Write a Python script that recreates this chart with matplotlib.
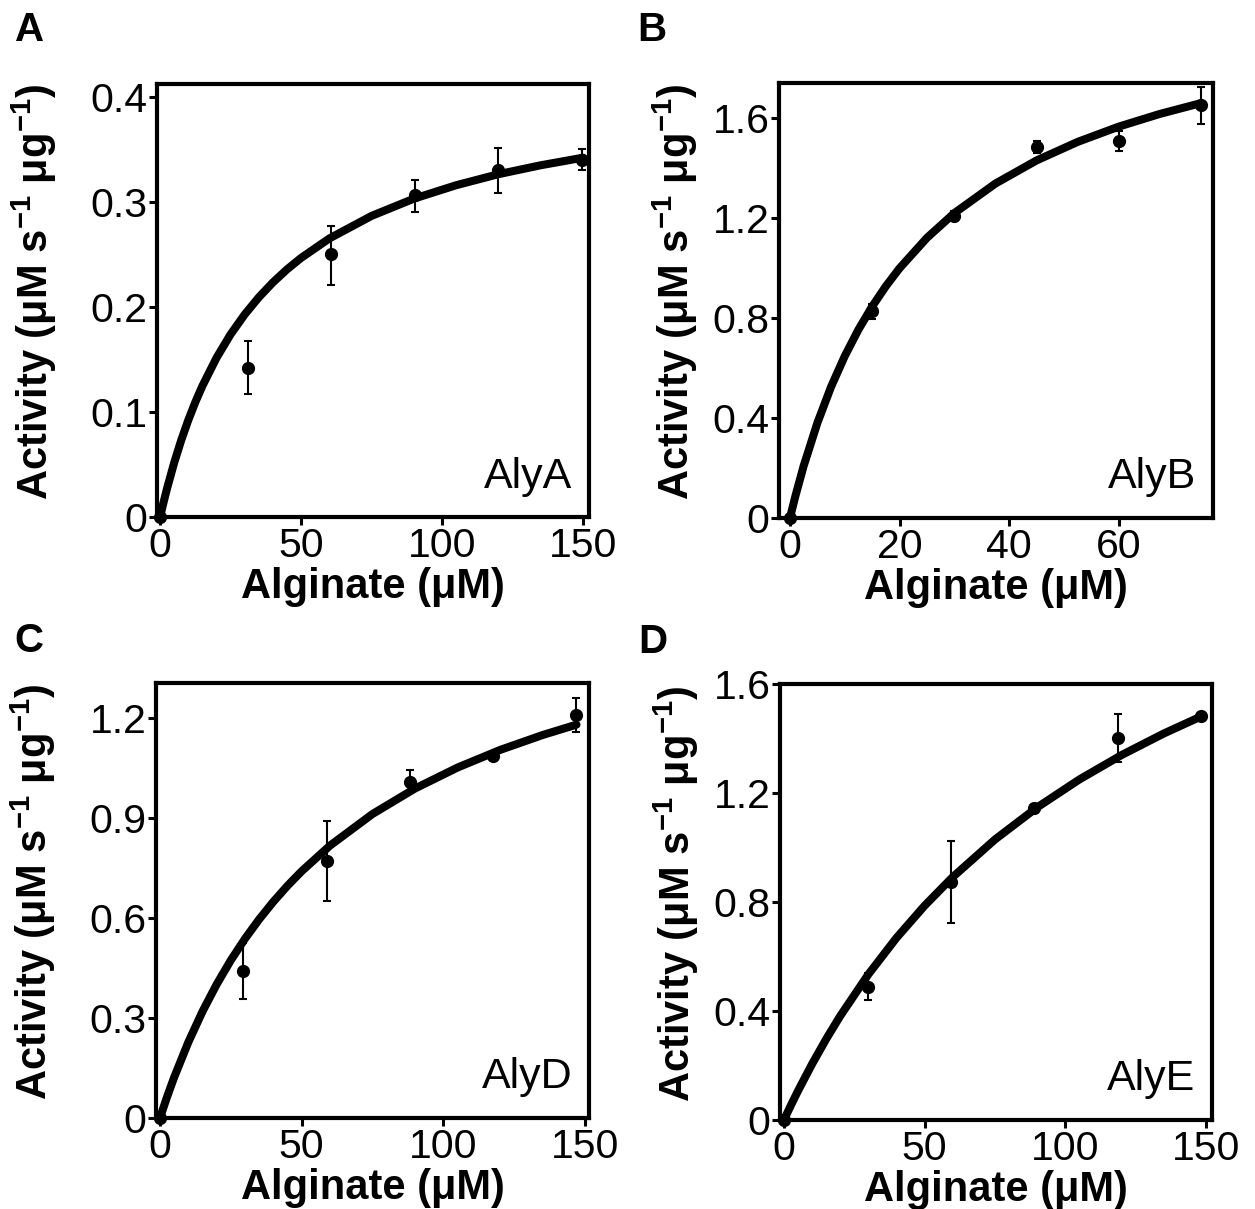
import matplotlib
matplotlib.use("Agg")
from matplotlib import pyplot as plt

plt.rcParams['font.family'] = 'Liberation Sans'
plt.rcParams['mathtext.fontset'] = 'custom'
plt.rcParams['mathtext.rm'] = 'Liberation Sans'
plt.rcParams['mathtext.bf'] = 'Liberation Sans:bold'

# measured points (substrate, activity, error bar low/high)
a_x = [0, 31, 60.5, 90.5, 120, 149.5]
a_y = [0, 0.142, 0.250, 0.306, 0.330, 0.340]
a_lo = [0, 0.025, 0.029, 0.016, 0.022, 0.010]
a_hi = [0, 0.025, 0.027, 0.015, 0.021, 0.010]
a_fit_x = [0, 1, 2.5, 5, 7.5, 10, 12.5, 15, 20, 25, 30, 35, 40, 45, 50, 60,
           75, 90, 105, 120, 135, 150]
a_fit_y = [0, 0.0115, 0.0275, 0.0517, 0.0731, 0.0922, 0.1093, 0.1247, 0.1514,
           0.1738, 0.1927, 0.209, 0.2232, 0.2356, 0.2465, 0.265, 0.2865,
           0.3029, 0.3157, 0.3262, 0.3347, 0.3419]

b_x = [0, 15, 30, 45, 60, 75]
b_y = [0, 0.828, 1.208, 1.484, 1.508, 1.652]
b_lo = [0, 0.03, 0.02, 0.025, 0.04, 0.075]
b_hi = [0, 0.03, 0.02, 0.025, 0.04, 0.072]
b_fit_x = [0, 1, 2.5, 5, 7.5, 10, 12.5, 15, 17.5, 20, 25, 30, 37.5, 45, 52.5,
           60, 67.5, 75]
b_fit_y = [0, 0.0883, 0.2082, 0.3801, 0.5246, 0.6476, 0.7537, 0.846, 0.9272,
           0.9991, 1.1208, 1.2198, 1.338, 1.4304, 1.5046, 1.5657, 1.6165,
           1.6597]

d_x = [0, 29.3, 59, 88.2, 117.5, 146.8]
d_y = [0, 0.441, 0.771, 1.008, 1.086, 1.209]
d_lo = [0, 0.084, 0.12, 0.03, 0.012, 0.05]
d_hi = [0, 0.084, 0.12, 0.036, 0.012, 0.05]
d_fit_x = [0, 2.5, 5, 10, 15, 20, 25, 30, 35, 40, 45, 50, 60, 75, 90, 105,
           120, 135, 147]
d_fit_y = [0, 0.0631, 0.1217, 0.2271, 0.3193, 0.4007, 0.473, 0.5377, 0.5959,
           0.6486, 0.6965, 0.7402, 0.8171, 0.9119, 0.9883, 1.0512, 1.104,
           1.1487, 1.18]

e_x = [0, 29.9, 59.4, 88.9, 118.8, 148.3]
e_y = [0, 0.488, 0.873, 1.145, 1.402, 1.483]
e_lo = [0, 0.048, 0.15, 0.01, 0.088, 0.01]
e_hi = [0, 0.051, 0.15, 0.01, 0.088, 0.01]
e_fit_x = [0, 2.5, 5, 10, 15, 20, 30, 40, 50, 60, 75, 90, 105, 120, 135, 148]
e_fit_y = [0, 0.0545, 0.1068, 0.2054, 0.2968, 0.3817, 0.5346, 0.6685, 0.7867,
           0.8919, 1.0295, 1.1475, 1.2499, 1.3395, 1.4186, 1.48]

xt_150 = [0, 50, 100, 150]
xt_75 = [0, 20, 40, 60]
a_yt = [0, 0.1, 0.2, 0.3, 0.4]
a_ytl = ["0", "0.1", "0.2", "0.3", "0.4"]
b_yt = [0, 0.4, 0.8, 1.2, 1.6]
b_ytl = ["0", "0.4", "0.8", "1.2", "1.6"]
d_yt = [0, 0.3, 0.6, 0.9, 1.2]
d_ytl = ["0", "0.3", "0.6", "0.9", "1.2"]

panels = [
    # letter, name, data, fit, xticks, yticks, labels, xlim, ylim, rect,
    # ylabel x, letter offset
    ("A", "AlyA", (a_x, a_y, a_lo, a_hi), (a_fit_x, a_fit_y), xt_150, a_yt, a_ytl,
     (-1.1, 152.1), (0, 0.412), [0.1251, 0.5724, 0.3442, 0.3581], -0.226, 0.06),
    ("B", "AlyB", (b_x, b_y, b_lo, b_hi), (b_fit_x, b_fit_y), xt_75, b_yt, b_ytl,
     (-2.0, 77.2), (0, 1.74), [0.6207, 0.5715, 0.3458, 0.3598], -0.182, 0.06),
    ("C", "AlyD", (d_x, d_y, d_lo, d_hi), (d_fit_x, d_fit_y), xt_150, d_yt, d_ytl,
     (-1.4, 151.4), (0, 1.305), [0.1243, 0.0753, 0.3450, 0.3598], -0.226, 0.0505),
    ("D", "AlyE", (e_x, e_y, e_lo, e_hi), (e_fit_x, e_fit_y), xt_150, b_yt, b_ytl,
     (-1.4, 152.1), (0, 1.6), [0.6215, 0.0736, 0.3442, 0.3606], -0.182, 0.0505),
]

fig = plt.figure(figsize=(12.55, 12.09), dpi=100)

for letter, name, pts, fit, xt, yt, ytl, xl, yl, rect, ylab_x, let_dy in panels:
    ax = fig.add_axes(rect)
    ax.plot(fit[0], fit[1], color='black', lw=5.8, solid_capstyle='round',
            solid_joinstyle='round', zorder=2, clip_on=False)
    ax.errorbar(pts[0], pts[1], yerr=[pts[2], pts[3]], fmt='o', color='black',
                ms=8.5, elinewidth=1.5, capsize=3.0, capthick=1.5, zorder=3,
                clip_on=False)
    ax.set_xlim(xl)
    ax.set_ylim(yl)
    ax.set_xticks(xt)
    ax.set_yticks(yt)
    ax.set_yticklabels(ytl)
    for s in ax.spines.values():
        s.set_linewidth(3)
    ax.tick_params(direction='out', length=6, width=2.2, labelsize=29.5, pad=1)
    ax.set_xlabel("Alginate (μM)", fontsize=30, fontweight='bold', labelpad=1.5)
    ax.set_ylabel(r"Activity (μM s$^{\mathbf{-1}}$ μg$^{\mathbf{-1}}$)",
                  fontsize=30, fontweight='bold')
    ax.yaxis.set_label_coords(ylab_x, 0.52)
    ax.text(0.962, 0.068, name, transform=ax.transAxes, fontsize=31,
            ha='right', va='baseline')
    fig.text(rect[0] - 0.113, rect[1] + rect[3] + let_dy, letter, fontsize=29,
             fontweight='bold', ha='left', va='top')

fig.savefig("out.png", dpi=100)
